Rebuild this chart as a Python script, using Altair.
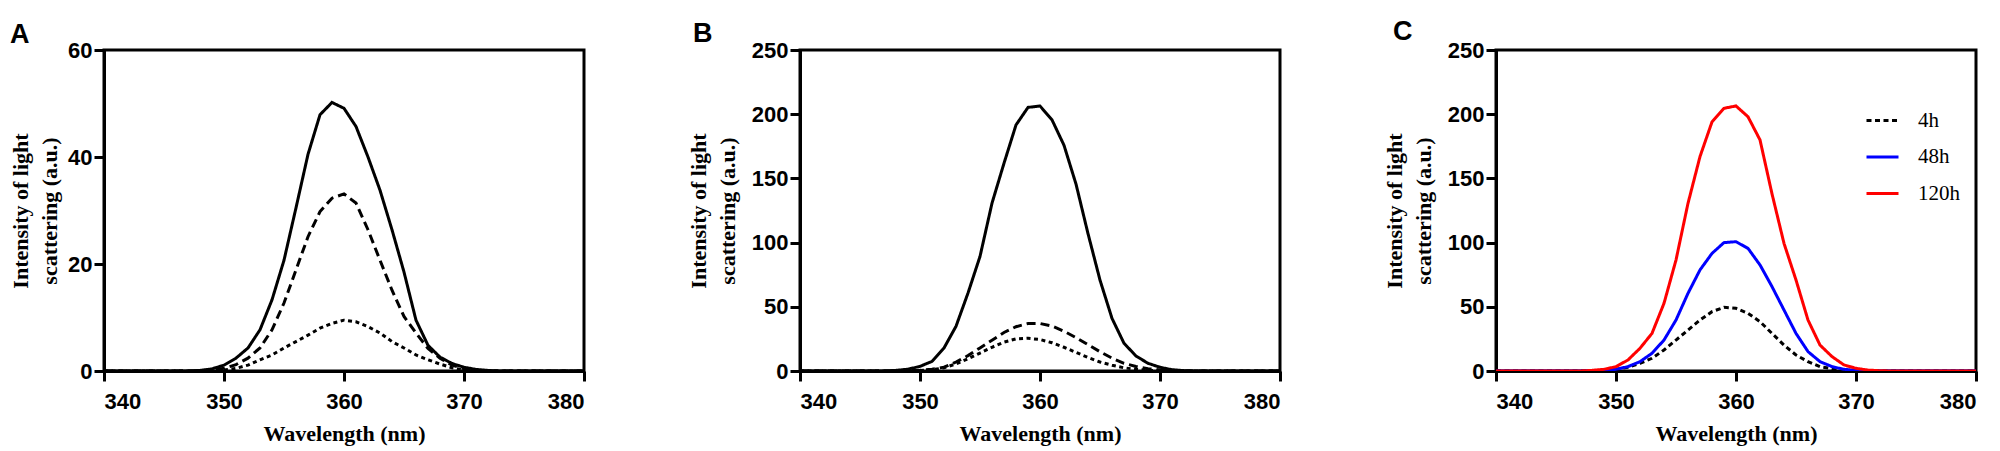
import altair as alt
import pandas as pd

wavelength = list(range(340, 381))

# Panel A
a_solid = [0, 0, 0, 0, 0, 0, 0, 0,
           0.1, 0.4, 1.1, 2.4, 4.3, 7.7, 13.3, 20.7, 30.5, 40.5, 47.9, 50.2, 49.1, 45.7, 40.0,
           33.8, 26.4, 18.5, 9.5, 4.8, 2.6, 1.4, 0.7, 0.3, 0.1,
           0, 0, 0, 0, 0, 0, 0, 0]
a_dash = [0, 0, 0, 0, 0, 0, 0, 0,
          0.05, 0.2, 0.5, 1.2, 2.4, 4.3, 7.7, 12.7, 18.9, 25.1, 29.8, 32.3, 33.1, 31.4, 26.4,
          20.7, 15.1, 10.2, 7.1, 4.2, 2.4, 1.1, 0.4, 0.1, 0,
          0, 0, 0, 0, 0, 0, 0, 0]
a_dot = [0, 0, 0, 0, 0, 0, 0, 0,
         0, 0.05, 0.2, 0.5, 1.1, 2.1, 3.0, 4.3, 5.5, 6.7, 8.0, 8.9, 9.5, 9.2, 8.3,
         7.1, 5.5, 4.3, 3.0, 2.1, 1.3, 0.6, 0.2, 0.05, 0,
         0, 0, 0, 0, 0, 0, 0, 0]

# Panel B
b_solid = [0, 0, 0, 0, 0, 0, 0, 0,
           0.5, 1.4, 3.6, 7.5, 17.9, 34.8, 60.7, 89.2, 130.7, 161.8, 191.6, 205.3, 206.4, 195.6, 175.8,
           145.6, 107.0, 70.8, 41.0, 21.6, 11.7, 6.0, 2.9, 1.0, 0.3,
           0, 0, 0, 0, 0, 0, 0, 0]
b_dash = [0, 0, 0, 0, 0, 0, 0, 0,
          0.1, 0.3, 0.6, 1.4, 3.0, 7.0, 12.0, 18.0, 24.0, 30.0, 34.5, 37.0, 37.0, 35.0, 31.0,
          26.0, 20.5, 15.0, 10.0, 6.0, 3.5, 1.8, 0.8, 0.3, 0.1,
          0, 0, 0, 0, 0, 0, 0, 0]
b_dot = [0, 0, 0, 0, 0, 0, 0, 0,
         0.1, 0.2, 0.4, 1.0, 2.5, 5.5, 9.5, 14.0, 18.5, 22.5, 25.0, 25.5, 24.5, 22.0, 18.5,
         14.5, 10.5, 7.0, 4.5, 2.5, 1.3, 0.6, 0.3, 0.1, 0,
         0, 0, 0, 0, 0, 0, 0, 0]

# Panel C
c_4h = [0, 0, 0, 0, 0, 0, 0, 0,
        0.2, 0.5, 1.3, 2.9, 6.0, 9.9, 16.4, 24.1, 31.9, 39.7, 46.2, 49.6, 48.8, 44.9, 38.4,
        29.3, 20.2, 12.5, 7.3, 3.4, 1.8, 0.8, 0.3, 0.1, 0,
        0, 0, 0, 0, 0, 0, 0, 0]
c_48h = [0, 0, 0, 0, 0, 0, 0, 0,
         0.2, 0.5, 1.3, 3.4, 7.3, 13.8, 24.1, 39.7, 60.5, 78.7, 91.6, 100.0, 100.7, 95.5, 82.6,
         65.7, 47.5, 29.3, 15.1, 7.3, 3.4, 1.3, 0.5, 0.2, 0,
         0, 0, 0, 0, 0, 0, 0, 0]
c_120h = [0, 0, 0, 0, 0, 0, 0, 0,
          0.5, 1.3, 3.4, 8.6, 17.7, 29.3, 52.7, 86.4, 130.6, 167.0, 194.0, 204.6, 206.4, 198.0, 180.0,
          138.0, 99.4, 70.9, 39.7, 20.2, 11.2, 4.7, 2.1, 0.7, 0.2,
          0, 0, 0, 0, 0, 0, 0, 0]

x_ticks = [340, 350, 360, 370, 380]
y_ticks_a = [0, 20, 40, 60]
y_ticks_bc = [0, 50, 100, 150, 200, 250]
ab_styles = ["s1", "s2", "s3"]
c_labels = ["4h", "48h", "120h"]
c_colors = ["#000000", "#0000ff", "#ff0000"]
panel_letters = ["A", "B", "C"]

Y_TITLE = ["Intensity of light", "scattering (a.u.)"]
X_TITLE = "Wavelength (nm)"


def long_df(series_dict):
    rows = []
    for name, vals in series_dict.items():
        for w, v in zip(wavelength, vals):
            rows.append({"wavelength": w, "intensity": v, "series": name})
    return pd.DataFrame(rows)


def letter(text, dx, dy):
    return alt.Chart(pd.DataFrame({"letter": [text]})).mark_text(
        font="Liberation Sans", fontSize=27, fontWeight="bold", color="black",
        align="left", baseline="alphabetic", clip=False
    ).encode(x=alt.value(dx), y=alt.value(dy), text="letter:N")


def xenc():
    return alt.X("wavelength:Q", title=X_TITLE,
                 scale=alt.Scale(domain=[340, 380], nice=False),
                 axis=alt.Axis(values=x_ticks, format="d"))


def yenc(ymax, ticks, title_pad):
    return alt.Y("intensity:Q", title=Y_TITLE,
                 scale=alt.Scale(domain=[0, ymax], nice=False),
                 axis=alt.Axis(values=ticks, format="d", titlePadding=title_pad))


W, H = 480, 321
LW = 3

df_a = long_df({"s1": a_solid, "s2": a_dash, "s3": a_dot})
lines_a = alt.Chart(df_a).mark_line(
    strokeWidth=LW, color="black", clip=True).encode(
    x=xenc(), y=yenc(60, y_ticks_a, 6),
    strokeDash=alt.StrokeDash("series:N", legend=None,
                              scale=alt.Scale(domain=ab_styles,
                                              range=[[1, 0], [9, 5], [4, 3.5]])),
)
chart_a = alt.layer(lines_a, letter(panel_letters[0], -94, -7)).properties(width=W, height=H)

df_b = long_df({"s1": b_solid, "s2": b_dash, "s3": b_dot})
lines_b = alt.Chart(df_b).mark_line(
    strokeWidth=LW, color="black", clip=True).encode(
    x=xenc(), y=yenc(250, y_ticks_bc, 12),
    strokeDash=alt.StrokeDash("series:N", legend=None,
                              scale=alt.Scale(domain=ab_styles,
                                              range=[[1, 0], [9, 5], [4, 3.5]])),
)
chart_b = alt.layer(lines_b, letter(panel_letters[1], -107, -8)).properties(width=W, height=H)

df_c = long_df({"4h": c_4h, "48h": c_48h, "120h": c_120h})
leg = alt.Legend(title=None, orient="none", legendX=369, legendY=53,
                 symbolType="stroke", symbolSize=1024, symbolStrokeWidth=3,
                 labelFont="Liberation Serif", labelFontSize=21, labelColor="black",
                 labelOffset=18, rowPadding=8.5, padding=0)
lines_c = alt.Chart(df_c).mark_line(
    strokeWidth=LW, clip=True).encode(
    x=xenc(), y=yenc(250, y_ticks_bc, 12),
    color=alt.Color("series:N", legend=leg,
                    scale=alt.Scale(domain=c_labels, range=c_colors)),
    strokeDash=alt.StrokeDash("series:N", legend=leg,
                              scale=alt.Scale(domain=c_labels,
                                              range=[[5, 3.5], [1, 0], [1, 0]])),
)
chart_c = alt.layer(lines_c, letter(panel_letters[2], -103, -10)).properties(width=W, height=H)

chart = alt.hconcat(chart_a, chart_b, chart_c, spacing=216, bounds="flush").resolve_scale(
    color="independent", strokeDash="independent", x="independent", y="independent"
).resolve_legend(
    color="independent", strokeDash="independent"
).properties(
    padding={"left": 0, "top": 8, "right": 0, "bottom": 0},
    background="white"
).configure_view(
    stroke="black", strokeWidth=3
).configure_axis(
    grid=False, domainColor="black", domainWidth=3, tickColor="black", tickWidth=3,
    tickSize=10, labelFont="Liberation Sans", labelFontWeight="bold", labelFontSize=22,
    labelColor="black", titleFont="Liberation Serif", titleFontWeight="bold",
    titleFontSize=22, titleColor="black"
).configure_axisX(
    labelPadding=10, titlePadding=11
).configure_axisY(
    labelPadding=2, titleLineHeight=29
)

chart.save("out.html", embed_options={"renderer": "svg", "actions": False})
